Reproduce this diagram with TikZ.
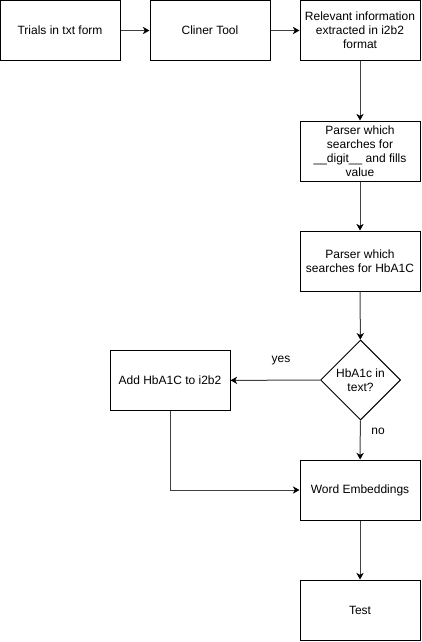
\documentclass[tikz,border=0pt]{standalone}
\usepackage{fontspec}
\setmainfont{Liberation Sans}
\usetikzlibrary{arrows.meta,shapes.geometric}
\begin{document}
\begin{tikzpicture}[x=0.75pt,y=-0.75pt,
  box/.style={draw,line width=0.75pt,minimum width=90pt,minimum height=45pt,align=center,inner sep=0pt,font=\fontsize{9pt}{10.5pt}\selectfont},
  dec/.style={draw,diamond,line width=0.75pt,minimum width=60pt,minimum height=60pt,align=center,inner sep=0pt,font=\fontsize{9pt}{10.5pt}\selectfont},
  conn/.style={line width=0.75pt,draw=black!75,-{Stealth[length=5pt,width=5.5pt,inset=1.5pt,color=black,fill=black]}},
  lbl/.style={font=\fontsize{9pt}{10.5pt}\selectfont,inner sep=0pt}]
\useasboundingbox (0,0) rectangle (421,642);
\node[box] (trials) at (60,30.5) {Trials in txt form};
\node[box] (cliner) at (210,30.5) {Cliner Tool};
\node[box] (rel) at (360,30.5) {Relevant information\\extracted in i2b2\\format};
\node[box] (pdig) at (360,151) {Parser which\\searches for\\\_\_digit\_\_ and fills\\value};
\node[box] (phba) at (360,261) {Parser which\\searches for HbA1C};
\node[dec] (q) at (360.5,380) {HbA1c in\\text?};
\node[box] (add) at (170,380.5) {Add HbA1C to i2b2};
\node[box] (we) at (360,490) {Word Embeddings};
\node[box] (test) at (360,610) {Test};
\draw[conn] (trials) -- (cliner);
\draw[conn] (cliner) -- (rel);
\draw[conn] (rel) -- (pdig);
\draw[conn] (pdig) -- (phba);
\draw[conn] (phba) -- (q);
\draw[conn] (q) -- (add);
\draw[conn] (q) -- (we);
\draw[conn] (add.south) |- (we.west);
\draw[conn] (we) -- (test);
\node[lbl] (yes) at (281,361) {yes};
\node[lbl] (no) at (378,431) {no};
\end{tikzpicture}
\end{document}
